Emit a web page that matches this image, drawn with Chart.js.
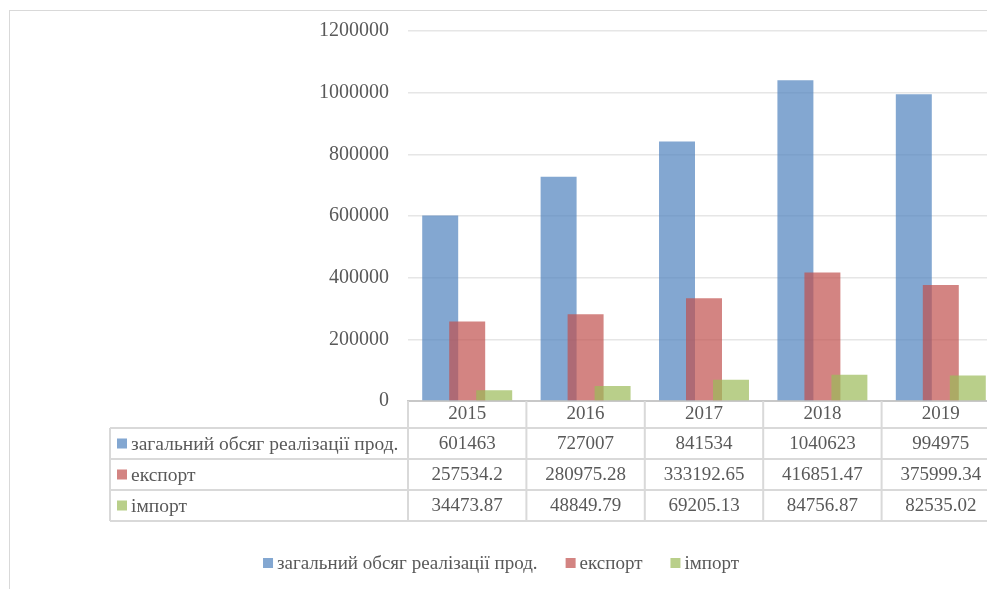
<!DOCTYPE html>
<html>
<head>
<meta charset="utf-8">
<script src="https://cdn.jsdelivr.net/npm/chart.js@4"></script>
<style>
  html, body { margin: 0; padding: 0; overflow: hidden; background: #fff; }
  #wrap { position: absolute; left: 0; top: 0; width: 1010px; height: 600px; }
  #frame { position: absolute; left: 9px; top: 10px; width: 1000px; height: 600px; border: 1px solid #d9d9d9; }
  #chart { position: absolute; left: 0; top: 0; }
</style>
</head>
<body>
<div id="wrap">
  <div id="frame"></div>
  <canvas id="chart" width="1010" height="589"></canvas>
</div>
<script>
// роки та показники
const years = ['2015', '2016', '2017', '2018', '2019'];
const totalSales = [601463, 727007, 841534, 1040623, 994975];
const exportVals = [257534.2, 280975.28, 333192.65, 416851.47, 375999.34];
const importVals = [34473.87, 48849.79, 69205.13, 84756.87, 82535.02];
const seriesNames = ['загальний обсяг реалізації прод.', 'експорт', 'імпорт'];
const yTicks = [0, 200000, 400000, 600000, 800000, 1000000, 1200000];

const colors = ['rgba(79,129,189,0.7)', 'rgba(192,80,77,0.7)', 'rgba(155,187,89,0.7)'];
const FONT = "'Liberation Serif', 'Times New Roman', serif";
const TEXT = '#595959';
const LINE = '#d9d9d9';

// draw series first-to-last so later bars sit on top of earlier ones
const drawInOrder = {
  id: 'drawInOrder',
  beforeDatasetsDraw(chart) {
    const ctx = chart.ctx, a = chart.chartArea;
    ctx.save();
    ctx.beginPath();
    ctx.rect(a.left, a.top, a.width, a.height + 1);
    ctx.clip();
    chart.getSortedVisibleDatasetMetas().forEach(m => m.controller.draw());
    ctx.restore();
    return false;
  }
};

// data table under the axis + legend
const dataTable = {
  id: 'dataTable',
  afterDraw(chart) {
    const ctx = chart.ctx;
    const xs = chart.scales.x;
    const a = chart.chartArea;
    const colW = xs.width / years.length;
    const tableLeft = 110;
    const headTop = a.bottom, headH = 27, rowH = 31;
    const rows = [totalSales, exportVals, importVals];
    const tableBottom = headTop + headH + rowH * rows.length;

    ctx.save();
    ctx.strokeStyle = LINE;
    ctx.lineWidth = 2;
    ctx.beginPath();
    // horizontal lines
    for (let r = 0; r <= rows.length; r++) {
      const y = headTop + headH + r * rowH;
      ctx.moveTo(tableLeft, y);
      ctx.lineTo(a.right + 20, y);
    }
    // vertical lines
    for (let i = 0; i <= years.length; i++) {
      const x = xs.getPixelForValue(i) - colW / 2;
      ctx.moveTo(x, headTop);
      ctx.lineTo(x, tableBottom);
    }
    ctx.moveTo(tableLeft, headTop + headH);
    ctx.lineTo(tableLeft, tableBottom);
    ctx.stroke();

    ctx.fillStyle = TEXT;
    ctx.textBaseline = 'middle';
    ctx.textAlign = 'center';
    ctx.font = '19px ' + FONT;
    years.forEach((yr, i) => {
      ctx.fillText(yr, xs.getPixelForValue(i), headTop + headH / 2);
    });
    rows.forEach((vals, r) => {
      const cy = headTop + headH + r * rowH + rowH / 2 + 1;
      ctx.font = '19px ' + FONT;
      vals.forEach((v, i) => {
        ctx.textAlign = 'center';
        ctx.fillText(String(v), xs.getPixelForValue(i), cy);
      });
      ctx.fillStyle = colors[r];
      ctx.fillRect(tableLeft + 7, cy - 6, 10, 10);
      ctx.fillStyle = TEXT;
      ctx.textAlign = 'left';
      ctx.font = '19.5px ' + FONT;
      ctx.fillText(seriesNames[r], tableLeft + 21, cy);
    });

    // legend
    ctx.font = '19px ' + FONT;
    const boxW = 10, boxGap = 4, itemGap = 28;
    const widths = seriesNames.map(n => ctx.measureText(n).width);
    const total = widths.reduce((s, w) => s + boxW + boxGap + w, 0) + itemGap * (seriesNames.length - 1);
    let x = 501 - total / 2;
    const ly = 563;
    ctx.textAlign = 'left';
    seriesNames.forEach((n, i) => {
      ctx.fillStyle = colors[i];
      ctx.fillRect(x, ly - 5, boxW, boxW);
      ctx.fillStyle = TEXT;
      ctx.fillText(n, x + boxW + boxGap, ly + 1);
      x += boxW + boxGap + widths[i] + itemGap;
    });
    ctx.restore();
  }
};

new Chart(document.getElementById('chart'), {
  type: 'bar',
  data: {
    labels: years,
    datasets: [
      { label: seriesNames[0], data: totalSales, backgroundColor: colors[0] },
      { label: seriesNames[1], data: exportVals, backgroundColor: colors[1] },
      { label: seriesNames[2], data: importVals, backgroundColor: colors[2] }
    ]
  },
  options: {
    responsive: false,
    animation: false,
    categoryPercentage: 0.684,
    barPercentage: 1.333,
    layout: { padding: { top: 31, right: 10, bottom: 188, left: 0 } },
    plugins: { legend: { display: false }, tooltip: { enabled: false } },
    scales: {
      x: {
        grid: { display: false, drawTicks: false },
        border: { color: '#c8c8c8', width: 2 },
        ticks: { display: false },
        afterFit: s => { s.height = 0; }
      },
      y: {
        min: 0,
        max: 1200000,
        afterBuildTicks: s => { s.ticks = yTicks.map(v => ({ value: v })); },
        grid: { color: '#e6e6e6', lineWidth: 1.5, drawTicks: false },
        border: { display: false },
        ticks: {
          padding: 19,
          color: TEXT,
          font: { family: FONT, size: 20 },
          callback: v => String(v)
        },
        afterFit: s => { s.width = 408; }
      }
    }
  },
  plugins: [drawInOrder, dataTable]
});
</script>
</body>
</html>
